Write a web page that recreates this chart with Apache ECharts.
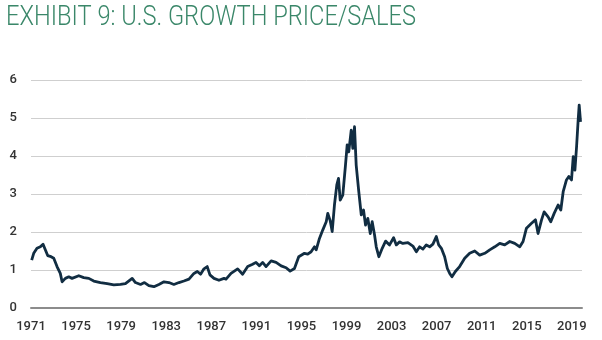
<!DOCTYPE html>
<html>
<head>
<meta charset="utf-8">
<script src="https://cdn.jsdelivr.net/npm/echarts@6/dist/echarts.min.js"></script>
<style>
  html, body { margin: 0; padding: 0; background: #ffffff; }
  #chart { width: 602px; height: 340px; }
</style>
</head>
<body>
<div id="chart"></div>
<script>
// U.S. growth stocks, price-to-sales ratio (decimal year, ratio)
const BASE_YEAR = 1971;
const years = [
  1971.06, 1971.24, 1971.53, 1971.83, 1972.07, 1972.27, 1972.48, 1972.78, 1973.02, 1973.31,
  1973.60, 1973.76, 1974.05, 1974.35, 1974.64, 1975.24, 1975.68, 1976.13, 1976.57, 1977.16,
  1977.76, 1978.35, 1978.94, 1979.38, 1979.98, 1980.27, 1980.72, 1981.07, 1981.46, 1981.91,
  1982.35, 1982.80, 1983.24, 1983.68, 1984.13, 1984.57, 1985.02, 1985.46, 1985.76, 1986.05,
  1986.35, 1986.64, 1986.88, 1987.24, 1987.68, 1988.13, 1988.31, 1988.75, 1989.34, 1989.78,
  1990.23, 1990.67, 1990.97, 1991.27, 1991.56, 1991.86, 1992.31, 1992.75, 1993.20, 1993.64,
  1994.00, 1994.38, 1994.76, 1995.27, 1995.56, 1995.86, 1996.16, 1996.31, 1996.60, 1996.89,
  1997.20, 1997.34, 1997.55, 1997.73, 1997.93, 1998.14, 1998.29, 1998.44, 1998.67, 1998.91,
  1999.06, 1999.20, 1999.42, 1999.56, 1999.71, 1999.86, 2000.09, 2000.31, 2000.51, 2000.69,
  2000.89, 2001.11, 2001.28, 2001.49, 2001.64, 2001.87, 2002.17, 2002.47, 2002.82, 2003.18,
  2003.42, 2003.71, 2004.00, 2004.45, 2004.89, 2005.20, 2005.49, 2005.78, 2006.08, 2006.38,
  2006.67, 2006.97, 2007.18, 2007.42, 2007.71, 2007.95, 2008.16, 2008.36, 2008.66, 2009.04,
  2009.49, 2009.93, 2010.38, 2010.82, 2011.27, 2011.71, 2012.16, 2012.60, 2013.04, 2013.49,
  2013.93, 2014.38, 2014.67, 2014.97, 2015.42, 2015.77, 2016.00, 2016.31, 2016.54, 2016.89,
  2017.13, 2017.43, 2017.78, 2018.02, 2018.23, 2018.52, 2018.73, 2018.97, 2019.12, 2019.27,
  2019.42, 2019.56, 2019.65, 2019.77
];
const priceToSales = [
  1.26, 1.44, 1.57, 1.61, 1.68, 1.53, 1.38, 1.35, 1.31, 1.09,
  0.91, 0.69, 0.78, 0.82, 0.78, 0.85, 0.80, 0.78, 0.71, 0.67,
  0.64, 0.61, 0.62, 0.64, 0.78, 0.67, 0.62, 0.67, 0.59, 0.56,
  0.62, 0.69, 0.67, 0.62, 0.67, 0.71, 0.76, 0.91, 0.96, 0.89,
  1.03, 1.09, 0.87, 0.78, 0.73, 0.78, 0.76, 0.91, 1.03, 0.89,
  1.09, 1.15, 1.20, 1.11, 1.20, 1.09, 1.24, 1.20, 1.11, 1.06,
  0.97, 1.04, 1.35, 1.44, 1.42, 1.48, 1.61, 1.53, 1.83, 2.05,
  2.27, 2.49, 2.30, 2.01, 2.71, 3.24, 3.41, 2.84, 2.97, 3.76,
  4.29, 4.11, 4.68, 4.20, 4.77, 3.76, 3.06, 2.45, 2.58, 2.18,
  2.36, 1.96, 2.27, 1.92, 1.61, 1.35, 1.57, 1.76, 1.66, 1.85,
  1.66, 1.74, 1.70, 1.72, 1.63, 1.48, 1.61, 1.55, 1.66, 1.61,
  1.68, 1.88, 1.66, 1.57, 1.35, 1.04, 0.91, 0.82, 0.96, 1.09,
  1.31, 1.44, 1.50, 1.39, 1.44, 1.53, 1.61, 1.70, 1.66, 1.75,
  1.70, 1.61, 1.75, 2.10, 2.23, 2.32, 1.96, 2.32, 2.53, 2.40,
  2.27, 2.49, 2.71, 2.58, 3.06, 3.37, 3.46, 3.37, 3.98, 3.63,
  4.25, 4.95, 5.34, 4.90
];
const yTicks = [0, 1, 2, 3, 4, 5, 6];
const titleText = 'EXHIBIT 9: U.S. GROWTH PRICE/SALES';

const seriesData = years.map((y, i) => [y - BASE_YEAR, priceToSales[i]]);

const chart = echarts.init(document.getElementById('chart'), null, { renderer: 'canvas' });
chart.setOption({
  animation: false,
  backgroundColor: '#ffffff',
  graphic: [{
    type: 'text',
    left: 6,
    top: 4,
    scaleX: 0.845,
    style: {
      text: titleText,
      fill: '#3a8769',
      font: '300 28px Roboto, "Noto Sans", sans-serif'
    }
  }],
  grid: { left: 31, right: 20, top: 80, bottom: 32, containLabel: false },
  xAxis: {
    type: 'value',
    min: 0,
    max: 48.9,
    interval: 4,
    axisLine: { show: true, lineStyle: { color: '#8c8c8c', width: 2 } },
    axisTick: { show: false },
    splitLine: { show: false },
    axisLabel: {
      showMaxLabel: false,
      margin: 12,
      color: '#333333',
      fontFamily: 'Roboto, "Noto Sans", sans-serif',
      fontWeight: 500,
      fontSize: 13,
      formatter: v => String(BASE_YEAR + v)
    }
  },
  yAxis: {
    type: 'value',
    min: yTicks[0],
    max: yTicks[yTicks.length - 1],
    interval: 1,
    axisLine: { show: false },
    axisTick: { show: false },
    splitLine: { show: true, lineStyle: { color: '#cfcfcf', width: 1 } },
    axisLabel: {
      margin: 14,
      color: '#333333',
      fontFamily: 'Roboto, "Noto Sans", sans-serif',
      fontWeight: 500,
      fontSize: 13
    }
  },
  series: [{
    type: 'line',
    data: seriesData,
    showSymbol: false,
    smooth: false,
    lineStyle: { color: '#112d42', width: 2.8, join: 'round' },
    z: 3
  }]
});
</script>
</body>
</html>
